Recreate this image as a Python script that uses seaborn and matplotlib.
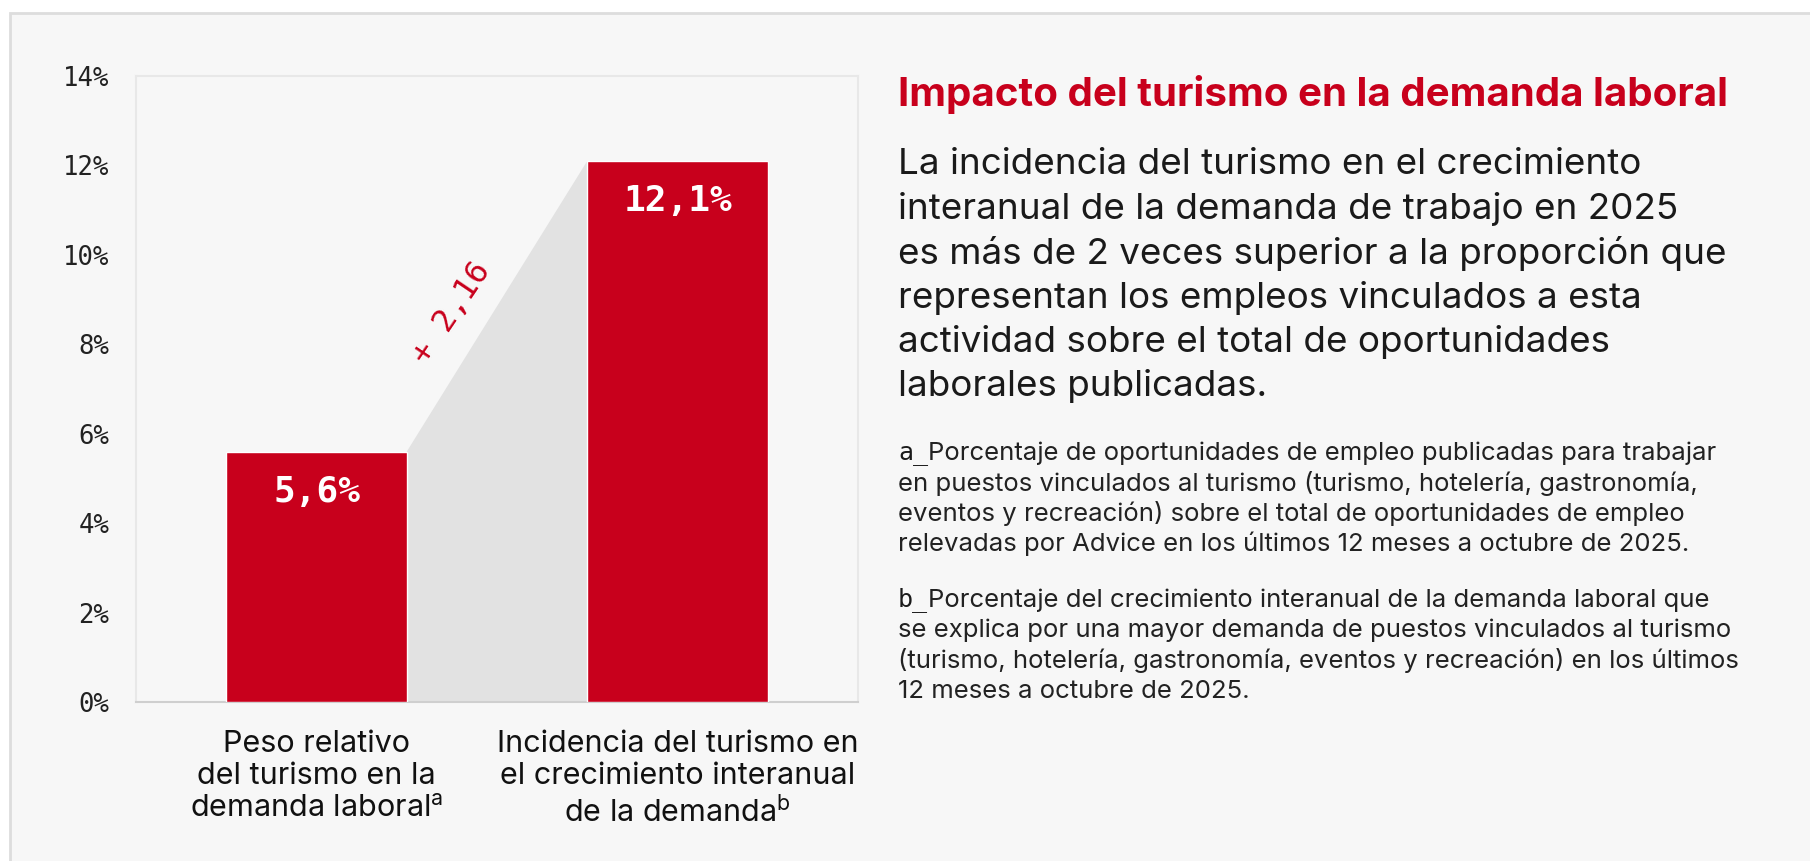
import matplotlib
matplotlib.use('Agg')
import matplotlib.pyplot as plt
import seaborn as sns
import matplotlib.ticker as ticker
from matplotlib.patches import Rectangle

# data
categories = ['peso', 'incidencia']
values = [5.6, 12.1]
value_labels = ['5,6%', '12,1%']
tick_labels = ['Peso relativo\ndel turismo en la\ndemanda laboral$^{\\mathrm{a}}$',
               'Incidencia del turismo en\nel crecimiento interanual\nde la demanda$^{\\mathrm{b}}$']
ratio_label = '+ 2,16'
y_ticks = [0, 2, 4, 6, 8, 10, 12, 14]

title = 'Impacto del turismo en la demanda laboral'
body = ['La incidencia del turismo en el crecimiento',
        'interanual de la demanda de trabajo en 2025',
        'es más de 2 veces superior a la proporción que',
        'representan los empleos vinculados a esta',
        'actividad sobre el total de oportunidades',
        'laborales publicadas.']
note_a = ['Porcentaje de oportunidades de empleo publicadas para trabajar',
          'en puestos vinculados al turismo (turismo, hotelería, gastronomía,',
          'eventos y recreación) sobre el total de oportunidades de empleo',
          'relevadas por Advice en los últimos 12 meses a octubre de 2025.']
note_b = ['Porcentaje del crecimiento interanual de la demanda laboral que',
          'se explica por una mayor demanda de puestos vinculados al turismo',
          '(turismo, hotelería, gastronomía, eventos y recreación) en los últimos',
          '12 meses a octubre de 2025.']

RED = '#c8001c'
BG = '#f7f7f7'
SANS = 'Inter'
MONO = 'DejaVu Sans Mono'

W, H = 1810, 861


def px(x, y):
    return x / W, 1 - y / H


def main():
    sns.set_style('white')
    plt.rcParams['font.family'] = [SANS, 'DejaVu Sans']
    plt.rcParams['mathtext.fontset'] = 'custom'
    plt.rcParams['mathtext.rm'] = SANS

    fig = plt.figure(figsize=(W / 100, H / 100), dpi=100)
    fig.patch.set_facecolor('white')

    # card background
    card = Rectangle(px(10, 13), 1.2, -1.2, transform=fig.transFigure,
                     facecolor=BG, edgecolor='#dddddd', lw=2, zorder=-10)
    fig.patches.append(card)

    l, t = px(136, 76)
    r, b = px(858, 702)
    ax = fig.add_axes([l, b, r - l, t - b])
    ax.set_facecolor(BG)

    sns.barplot(x=categories, y=values, color=RED, width=0.5, saturation=1,
                ax=ax, zorder=3)

    # gray connector between the bars
    hw = 0.25
    ax.fill([0 + hw, 1 - hw, 1 - hw, 0 + hw], [values[0], values[1], 0, 0],
            color='#e2e2e2', lw=0, zorder=2)

    for i, (v, lab) in enumerate(zip(values, value_labels)):
        ax.text(i, v - 0.9, lab, ha='center', va='center', color='white',
                fontsize=26, fontweight='bold', family=MONO, zorder=4)

    ax.text(0.375, 8.7, ratio_label, ha='center', va='center', color=RED,
            fontsize=23, family=MONO, rotation=56, rotation_mode='anchor')

    ax.set_xlim(-0.5, 1.5)
    ax.set_ylim(0, 14)
    ax.set_yticks(y_ticks)
    ax.yaxis.set_major_formatter(ticker.FuncFormatter(lambda v, p: f'{v:.0f}%'))
    for lab in ax.get_yticklabels():
        lab.set_family(MONO)
        lab.set_fontsize(18.5)
        lab.set_color('#222222')
    ax.tick_params(axis='y', length=0, pad=19)
    ax.tick_params(axis='x', length=0, pad=20)
    ax.set_xticks([0, 1])
    ax.set_xticklabels(tick_labels, fontsize=22, color='#111111',
                       linespacing=1.2)
    ax.set_xlabel('')
    ax.set_ylabel('')
    for s in ['top', 'left', 'right']:
        ax.spines[s].set_color('#e8e8e8')
        ax.spines[s].set_linewidth(1.5)
    ax.spines['bottom'].set_color('#cfcfcf')
    ax.spines['bottom'].set_linewidth(1.5)

    # right side text
    x0 = 898
    fig.text(*px(x0, 94), title, color=RED, fontsize=29, fontweight='bold',
             va='center', ha='left')
    for k, line in enumerate(body):
        fig.text(*px(x0, 165 + 44.2 * k), line, color='#1a1a1a', fontsize=26.5,
                 va='center', ha='left')

    fig.canvas.draw()
    rend = fig.canvas.get_renderer()
    for tag, lines, y0 in [('a_', note_a, 453), ('b_', note_b, 600)]:
        pre = fig.text(*px(x0, y0), tag, color='#1a1a1a', fontsize=18,
                       family=MONO, va='center', ha='left')
        w = pre.get_window_extent(rend).width
        for k, line in enumerate(lines):
            xx = x0 + (w if k == 0 else 0)
            fig.text(*px(xx, y0 + 30.4 * k), line, color='#222222',
                     fontsize=18.5, va='center', ha='left')

    fig.savefig('out.png', dpi=100, facecolor='white')


if __name__ == '__main__':
    main()
